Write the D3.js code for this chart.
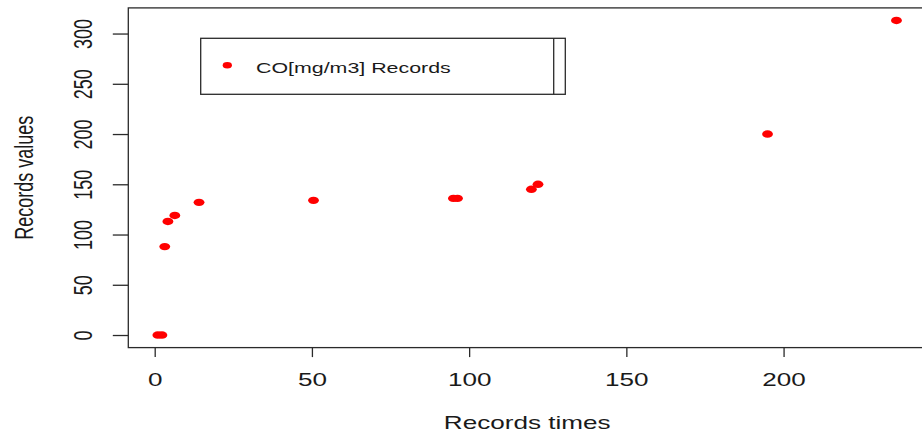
<!DOCTYPE html>
<html>
<head>
<meta charset="utf-8">
<script src="https://cdn.jsdelivr.net/npm/d3@7"></script>
<style>
  html, body { margin: 0; padding: 0; background: #fff; }
  svg { display: block; font-family: "Liberation Sans", Arial, sans-serif; }
</style>
</head>
<body>
<svg id="chart" width="922" height="439"></svg>
<script>
// CO concentration records: time of record vs. recorded value
const recordTimes  = [1, 2.3, 3.2, 4.2, 6.4, 14.1, 50.5, 95, 96.3, 119.8, 121.9, 194.9, 235.9];
const recordValues = [0, 0, 88, 113, 119, 132, 134, 136, 136, 145, 150, 200, 313];
const xTicks = [0, 50, 100, 150, 200];
const yTicks = [0, 50, 100, 150, 200, 250, 300];
const seriesName = "CO[mg/m3] Records";
const xTitle = "Records times";
const yTitle = "Records values";

const W = 922, H = 439;
const plot = { left: 128.3, right: 926, top: 7.9, bottom: 347.6 };
const sx = 1.45;            // horizontal stretch of the output device
const textColor = "#1a1a1a";
const frameColor = "#2a2a2a";
const pointColor = "#ff0000";

// R-style 4% padding around the data range
function padded(ext) {
  const p = (ext[1] - ext[0]) * 0.04;
  return [ext[0] - p, ext[1] + p];
}

const x = d3.scaleLinear().domain(padded(d3.extent(recordTimes))).range([plot.left, plot.right]);
const y = d3.scaleLinear().domain(padded(d3.extent(recordValues))).range([plot.bottom, plot.top]);

const svg = d3.select("#chart");
svg.append("rect").attr("width", W).attr("height", H).attr("fill", "#fff");

// points
const pts = recordTimes.map((t, i) => ({ t, v: recordValues[i] }));
svg.append("g").selectAll("ellipse").data(pts).join("ellipse")
  .attr("cx", d => x(d.t)).attr("cy", d => y(d.v))
  .attr("rx", 5.4).attr("ry", 3.7)
  .attr("fill", pointColor);

// bottom axis
const gx = svg.append("g")
  .attr("transform", `translate(0,${plot.bottom})`)
  .call(d3.axisBottom(x).tickValues(xTicks).tickSize(9.5).tickFormat(d3.format("d")));
gx.select(".domain").remove();
gx.selectAll(".tick line").attr("stroke", frameColor).attr("stroke-width", 1.3);
gx.selectAll(".tick text")
  .attr("y", null).attr("dy", null)
  .attr("text-anchor", "middle")
  .attr("transform", `translate(0,38.4) scale(${sx},1)`)
  .attr("fill", textColor).style("font-size", "18px");

// left axis
const gy = svg.append("g")
  .attr("transform", `translate(${plot.left},0)`)
  .call(d3.axisLeft(y).tickValues(yTicks).tickSize(15.5).tickFormat(d3.format("d")));
gy.select(".domain").remove();
gy.selectAll(".tick line").attr("stroke", frameColor).attr("stroke-width", 1.3);
gy.selectAll(".tick text")
  .attr("x", null).attr("dy", null)
  .attr("text-anchor", "middle")
  .attr("transform", `translate(-36.3,0) scale(${sx},1) rotate(-90)`)
  .attr("fill", textColor).style("font-size", "18px");

// plot frame
svg.append("rect")
  .attr("x", plot.left).attr("y", plot.top)
  .attr("width", plot.right - plot.left).attr("height", plot.bottom - plot.top)
  .attr("fill", "none").attr("stroke", frameColor).attr("stroke-width", 1.3);

// axis titles
svg.append("text")
  .attr("text-anchor", "middle")
  .attr("transform", `translate(${(plot.left + plot.right) / 2},429) scale(${sx},1)`)
  .attr("fill", textColor).style("font-size", "18px")
  .text(xTitle);

svg.append("text")
  .attr("text-anchor", "middle")
  .attr("transform", `translate(33,${(plot.top + plot.bottom) / 2}) scale(${sx},1) rotate(-90)`)
  .attr("fill", textColor).style("font-size", "18px")
  .text(yTitle);

// legend
const lg = { x0: 200.7, x1: 565.3, xi: 553.7, y0: 38.3, y1: 94.3 };
const legend = svg.append("g");
legend.append("rect")
  .attr("x", lg.x0).attr("y", lg.y0)
  .attr("width", lg.x1 - lg.x0).attr("height", lg.y1 - lg.y0)
  .attr("fill", "#fff").attr("stroke", frameColor).attr("stroke-width", 1.3);
legend.append("line")
  .attr("x1", lg.xi).attr("x2", lg.xi).attr("y1", lg.y0).attr("y2", lg.y1)
  .attr("stroke", frameColor).attr("stroke-width", 1.3);
legend.append("ellipse")
  .attr("cx", 227.3).attr("cy", 65.3).attr("rx", 4.6).attr("ry", 3.2)
  .attr("fill", pointColor);
legend.append("text")
  .attr("transform", `translate(256,73.3) scale(1.38,1)`)
  .attr("fill", textColor).style("font-size", "15.5px")
  .text(seriesName);
</script>
</body>
</html>
